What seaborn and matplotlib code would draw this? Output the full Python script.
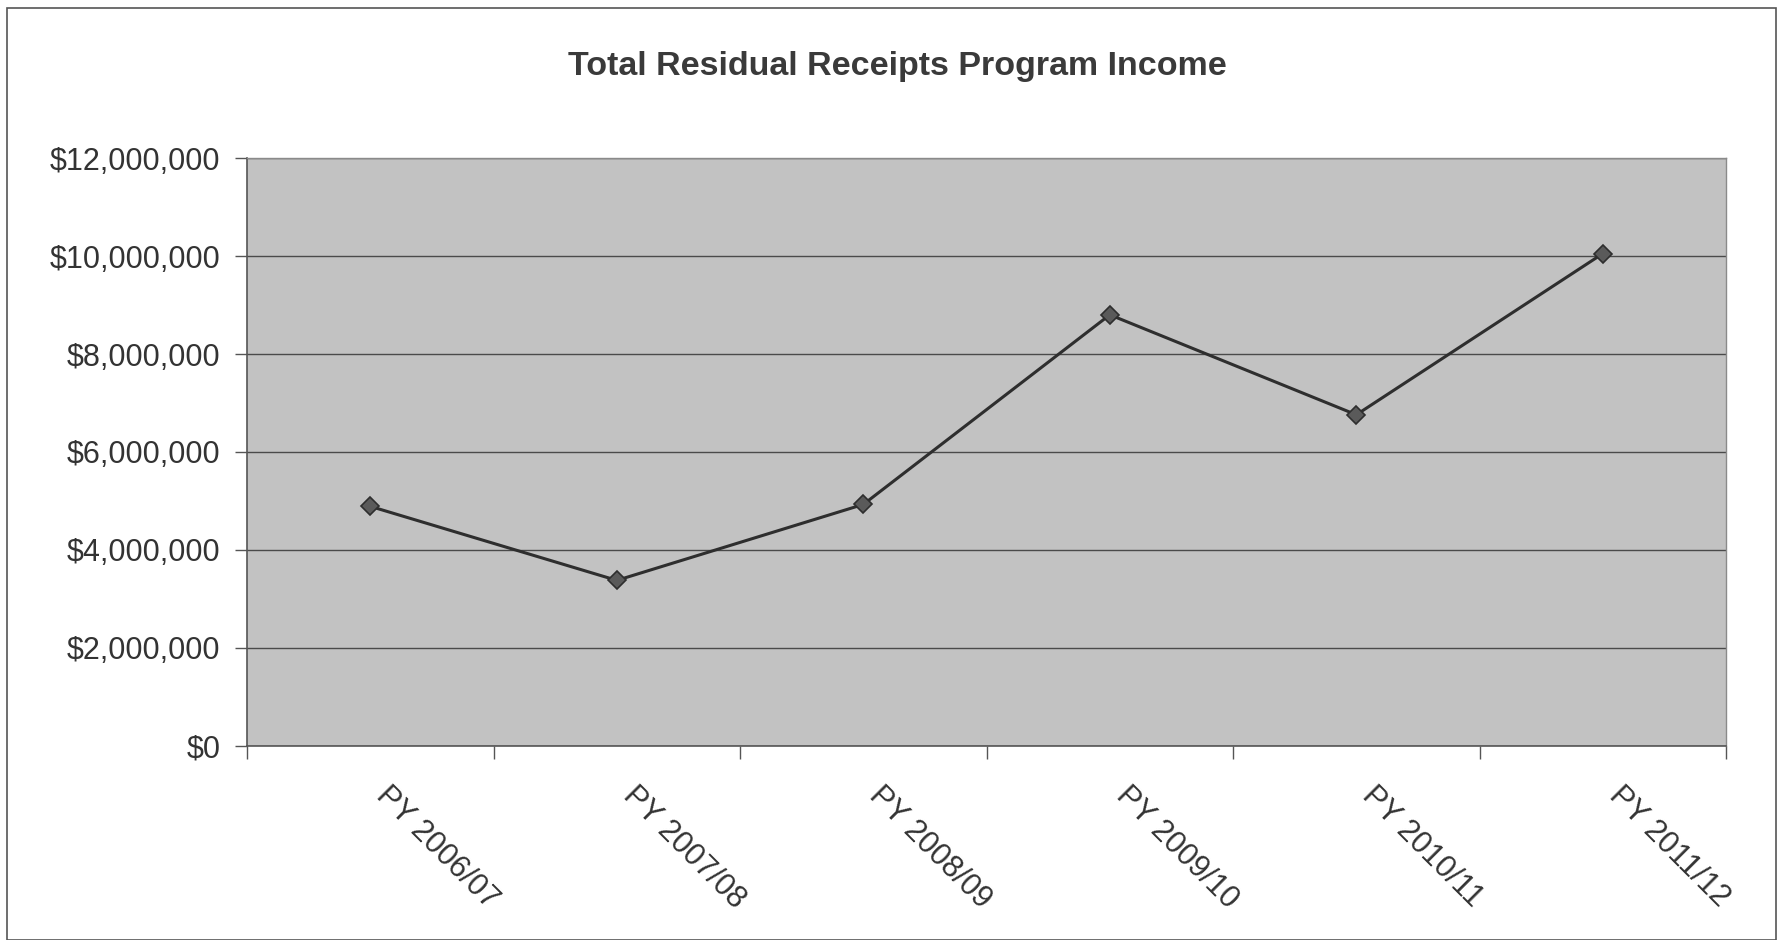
import matplotlib
matplotlib.use("Agg")
import matplotlib.pyplot as plt
import matplotlib.ticker as mticker
from matplotlib.patches import Rectangle
import seaborn as sns
import pandas as pd

# Program years and total residual receipts income
years = ['PY 2006/07', 'PY 2007/08', 'PY 2008/09', 'PY 2009/10', 'PY 2010/11', 'PY 2011/12']
income = [4890000, 3380000, 4930000, 8800000, 6760000, 10050000]
y_ticks = [0, 2000000, 4000000, 6000000, 8000000, 10000000, 12000000]

df = pd.DataFrame({'year': years, 'income': income})

sns.set_theme(style='white')
plt.rcParams['font.family'] = ['Liberation Sans', 'DejaVu Sans']

fig = plt.figure(figsize=(17.8, 9.4), dpi=100)
ax = fig.add_axes([0.1388, 0.2064, 0.8309, 0.6255])
ax.set_facecolor('#c2c2c2')

sns.lineplot(data=df, x='year', y='income', ax=ax, color='#2e2e2e', linewidth=2.2,
             marker='D', markersize=9, markerfacecolor='#5a5a5a',
             markeredgecolor='#2e2e2e', markeredgewidth=1.2, zorder=3)

ax.set_xlim(-0.5, len(years) - 0.5)
ax.set_ylim(0, 12000000)
ax.set_yticks(y_ticks)
ax.yaxis.set_major_formatter(mticker.FuncFormatter(lambda v, p: '${:,.0f}'.format(v)))
ax.grid(axis='y', color='#4a4a4a', linewidth=1.0)
ax.grid(axis='x', visible=False)
ax.set_axisbelow(True)

# category labels centred, tick marks on the category boundaries
ax.set_xticks(range(len(years)))
ax.set_xticklabels(years, rotation=-45, ha='left', va='bottom', rotation_mode='anchor')
ax.set_xticks([i - 0.5 for i in range(len(years) + 1)], minor=True)
ax.tick_params(axis='x', which='major', length=0, pad=40, labelsize=22, labelcolor='#333333')
ax.tick_params(axis='x', which='minor', length=9, width=1, color='#555555', direction='out', bottom=True)
ax.tick_params(axis='y', which='major', length=9, width=1, color='#555555', direction='out', left=True,
               pad=10, labelsize=22, labelcolor='#333333')

ax.set_xlabel('')
ax.set_ylabel('')

for side in ['top', 'right']:
    ax.spines[side].set_color('#8a8a8a')
    ax.spines[side].set_linewidth(1.0)
for side in ['left', 'bottom']:
    ax.spines[side].set_color('#555555')
    ax.spines[side].set_linewidth(1.2)

fig.text(0.504, 0.929, 'Total Residual Receipts Program Income', ha='center', va='center',
         fontsize=24.5, fontweight='bold', color='#3a3a3a')

# thin border round the whole chart
fig.patches.append(Rectangle((0.004, 0.0), 0.994, 0.992, transform=fig.transFigure,
                             fill=False, edgecolor='#555555', linewidth=1.2))

fig.savefig('out.png', dpi=100, facecolor='white')
